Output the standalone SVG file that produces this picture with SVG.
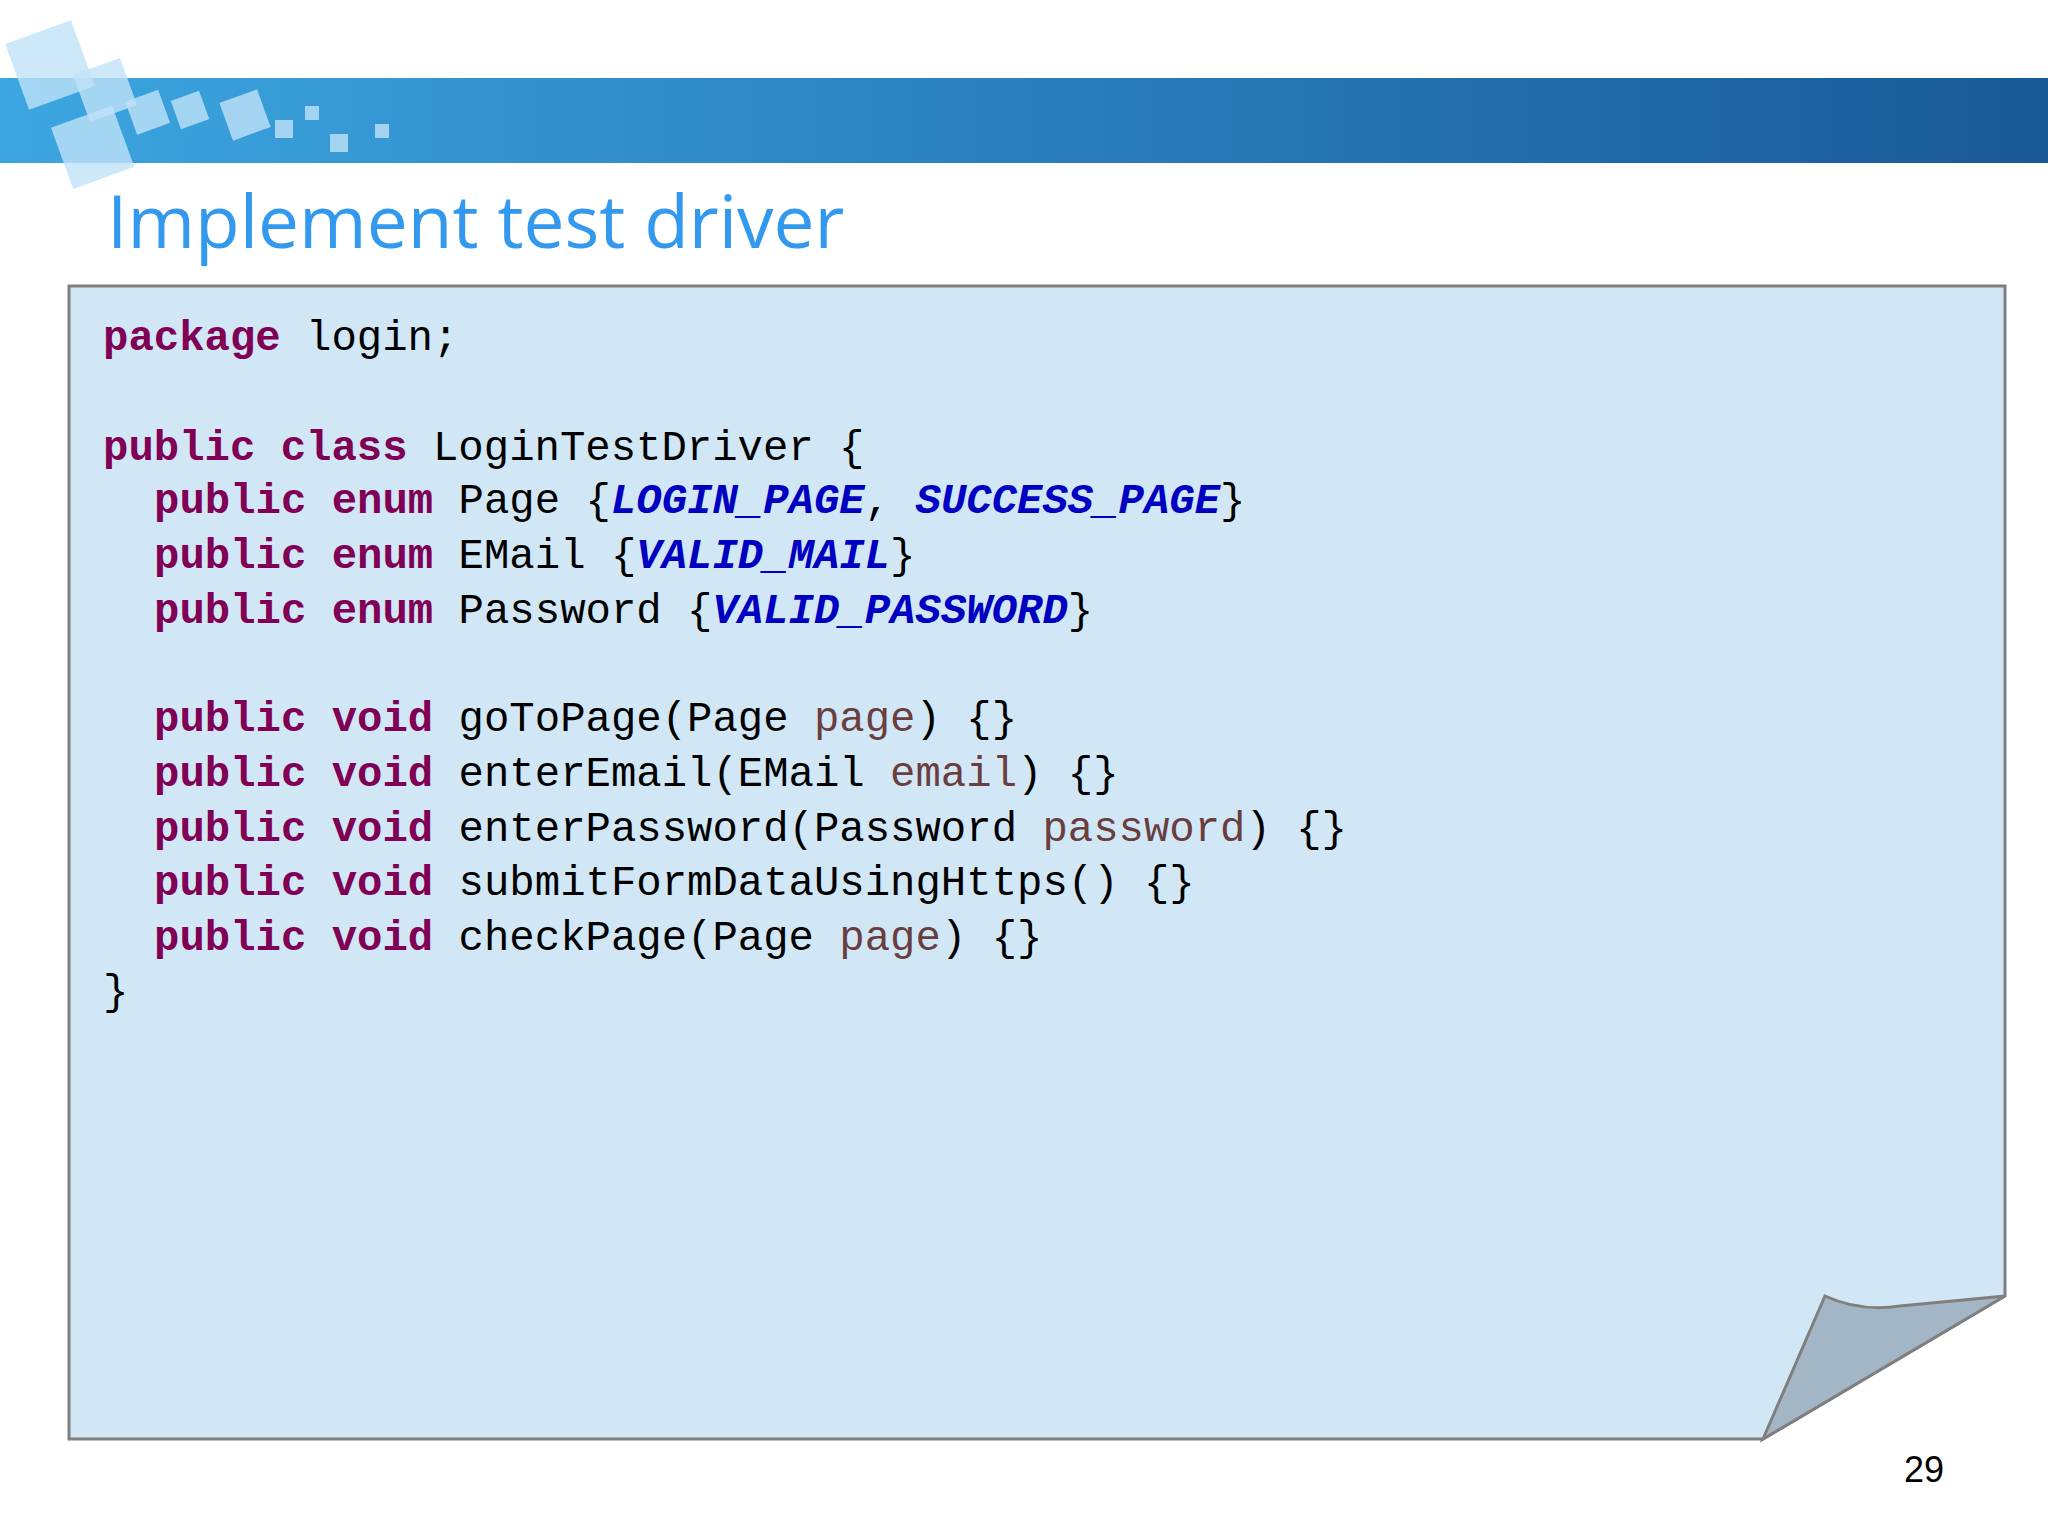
<svg xmlns="http://www.w3.org/2000/svg" width="2048" height="1535" viewBox="0 0 2048 1535">
<defs>
<linearGradient id="hb" x1="0" x2="1" y1="0" y2="0">
<stop offset="0" stop-color="#3ca6e0"/><stop offset="0.5" stop-color="#2a7fbd"/><stop offset="1" stop-color="#195a96"/>
</linearGradient>
<style>
.c{font-family:"Liberation Mono",monospace;font-size:42.3px;fill:#000;white-space:pre}
.k{fill:#7f0055;font-weight:bold}
.e{fill:#0000c0;font-weight:bold;font-style:italic}
.p{fill:#6a3e3e}
.sq{fill:#bfe2f7;opacity:0.8}
</style>
</defs>
<rect width="2048" height="1535" fill="#fff"/>
<g id="header">
<rect x="0" y="78" width="2048" height="85" fill="url(#hb)"/>
<rect class="sq" x="15" y="30" width="70" height="70" transform="rotate(-20 50 65)"/>
<rect class="sq" x="60" y="115" width="65" height="65" transform="rotate(-20 92 147)"/>
<rect class="sq" x="80" y="65" width="50" height="50" transform="rotate(-20 105 90)"/>
<rect class="sq" x="130" y="95" width="35" height="35" transform="rotate(-20 147 112)"/>
<rect class="sq" x="175" y="95" width="30" height="30" transform="rotate(-20 190 110)"/>
<rect class="sq" x="225" y="95" width="40" height="40" transform="rotate(-20 245 115)"/>
<rect class="sq" x="275" y="120" width="18" height="18"/>
<rect class="sq" x="305" y="106" width="14" height="14"/>
<rect class="sq" x="330" y="134" width="18" height="18"/>
<rect class="sq" x="375" y="124" width="14" height="14"/>
</g>
<text id="title" x="107" y="248" font-family="Open Sans, Liberation Sans, sans-serif" font-size="73" fill="#3399ee">Implement test driver</text>
<g id="box">
<path d="M69 286 H2005 V1296 L1763 1439 H69 Z" fill="#d1e7f6" stroke="#7f7f7f" stroke-width="3"/>
<path d="M1825 1296 Q1860 1312 1900 1306 L2005 1296 L1763 1439 Z" fill="#a3b6c6" stroke="#7f7f7f" stroke-width="3"/>
</g>
<g id="code" class="c">
<text x="103" y="350"><tspan class="k">package</tspan> login;</text>
<text x="103" y="460"><tspan class="k">public</tspan> <tspan class="k">class</tspan> LoginTestDriver {</text>
<text x="154" y="513"><tspan class="k">public</tspan> <tspan class="k">enum</tspan> Page {<tspan class="e">LOGIN_PAGE</tspan>, <tspan class="e">SUCCESS_PAGE</tspan>}</text>
<text x="154" y="568"><tspan class="k">public</tspan> <tspan class="k">enum</tspan> EMail {<tspan class="e">VALID_MAIL</tspan>}</text>
<text x="154" y="623"><tspan class="k">public</tspan> <tspan class="k">enum</tspan> Password {<tspan class="e">VALID_PASSWORD</tspan>}</text>
<text x="154" y="731"><tspan class="k">public</tspan> <tspan class="k">void</tspan> goToPage(Page <tspan class="p">page</tspan>) {}</text>
<text x="154" y="786"><tspan class="k">public</tspan> <tspan class="k">void</tspan> enterEmail(EMail <tspan class="p">email</tspan>) {}</text>
<text x="154" y="841"><tspan class="k">public</tspan> <tspan class="k">void</tspan> enterPassword(Password <tspan class="p">password</tspan>) {}</text>
<text x="154" y="895"><tspan class="k">public</tspan> <tspan class="k">void</tspan> submitFormDataUsingHttps() {}</text>
<text x="154" y="950"><tspan class="k">public</tspan> <tspan class="k">void</tspan> checkPage(Page <tspan class="p">page</tspan>) {}</text>
<text x="103" y="1004">}</text>
</g>
<text id="pagenum" x="1924" y="1482" text-anchor="middle" font-family="Liberation Sans, sans-serif" font-size="36" fill="#000">29</text>
</svg>
